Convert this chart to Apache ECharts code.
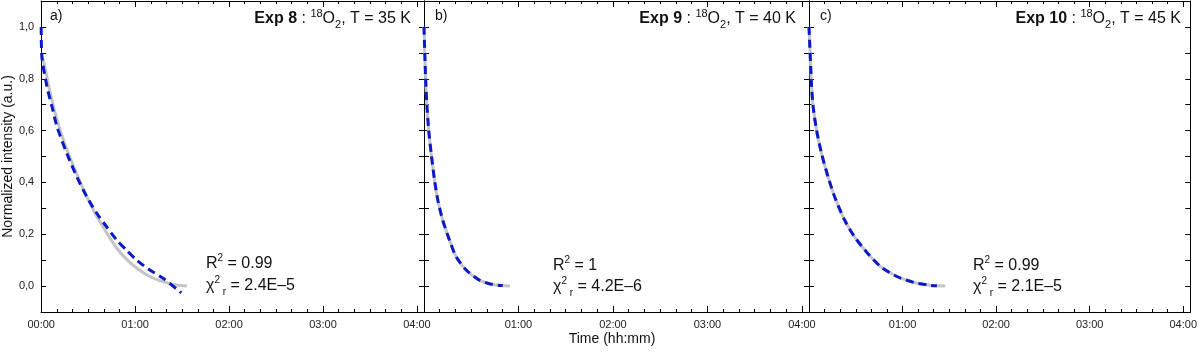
<!DOCTYPE html>
<html>
<head>
<meta charset="utf-8">
<script src="https://cdn.jsdelivr.net/npm/echarts@6/dist/echarts.min.js"></script>
<style>html,body{margin:0;padding:0;background:#fff}#chart{width:1200px;height:352px}</style>
</head>
<body>
<div id="chart"></div>
<script>
// time in minutes, intensity normalized
var exp8Time = [0, 1.7, 5.9, 10.2, 14.4, 18.6, 22.9, 29.2, 35.6, 41.9, 48.3, 54.6, 61, 69.4, 77.9, 86.4, 93];
var exp8Data = [0.9, 0.862, 0.742, 0.64, 0.56, 0.493, 0.43, 0.344, 0.268, 0.205, 0.146, 0.103, 0.07, 0.037, 0.017, 0.004, 0.0];
var exp8FitTime = [0, 0.5, 3.8, 7, 10.2, 16.5, 22.9, 29.2, 35.6, 41.9, 48.3, 54.6, 61, 69.4, 77.9, 89.5];
var exp8Fit = [1.0, 0.88, 0.767, 0.69, 0.613, 0.51, 0.42, 0.344, 0.28, 0.228, 0.177, 0.138, 0.1, 0.062, 0.03, -0.026];

var exp9Time = [0, 1, 1.8, 3, 4.6, 6.7, 8.8, 11.9, 16.2, 20.4, 26.8, 35.2, 43.7, 54.6];
var exp9Data = [1.0, 0.805, 0.703, 0.6, 0.51, 0.408, 0.331, 0.254, 0.177, 0.113, 0.062, 0.023, 0.006, 0.0];
var exp9FitTime = [0, 1, 1.8, 3, 4.6, 6.7, 8.8, 11.9, 16.2, 20.4, 26.8, 35.2, 43.7, 50];
var exp9Fit = [1.0, 0.805, 0.703, 0.6, 0.51, 0.408, 0.331, 0.254, 0.177, 0.113, 0.062, 0.023, 0.006, 0.002];

var exp10Time = [0, 1.7, 2.7, 4.9, 8.1, 12.3, 16.5, 22.9, 29.2, 37.7, 46.2, 56.7, 67.3, 77.9, 87.4];
var exp10Data = [1.0, 0.767, 0.69, 0.6, 0.51, 0.42, 0.344, 0.254, 0.19, 0.126, 0.074, 0.036, 0.014, 0.003, 0.0];
var exp10FitTime = [0, 1.7, 2.7, 4.9, 8.1, 12.3, 16.5, 22.9, 29.2, 37.7, 46.2, 56.7, 67.3, 77.9, 82];
var exp10Fit = [1.0, 0.767, 0.69, 0.6, 0.51, 0.42, 0.344, 0.254, 0.19, 0.126, 0.074, 0.036, 0.014, 0.003, 0.001];

var panelLabels = ['a)', 'b)', 'c)'];
var expNames = ['Exp 8', 'Exp 9', 'Exp 10'];
var temps = ['35 K', '40 K', '45 K'];
var r2Values = ['0.99', '1', '0.99'];
var chiValues = ['2.4E\u20135', '4.2E\u20136', '2.1E\u20135'];

var panels = [
    {t: exp8Time, v: exp8Data, ft: exp8FitTime, fv: exp8Fit},
    {t: exp9Time, v: exp9Data, ft: exp9FitTime, fv: exp9Fit},
    {t: exp10Time, v: exp10Data, ft: exp10FitTime, fv: exp10Fit}
];

var FONT = "'Liberation Sans', Arial, sans-serif";
var xMax = 244.5;
var annX = [206, 553, 973];

function pairs(t, v) {
    return t.map(function (x, i) { return [x, v[i]]; });
}
function hhmm(m) {
    var h = Math.floor(m / 60), mm = Math.round(m % 60);
    return (h < 10 ? '0' : '') + h + ':' + (mm < 10 ? '0' : '') + mm;
}

var myChart = echarts.init(document.getElementById('chart'));
var grids = [], xAxes = [], yAxes = [], series = [], graphics = [];

panels.forEach(function (p, i) {
    var left = 39 + i * 385;
    grids.push({left: left, top: 1, width: 385, height: 311, containLabel: false});
    var base = {
        type: 'value', gridIndex: i, min: 0, max: xMax,
        splitLine: {show: false},
        axisLine: {show: true, onZero: false, lineStyle: {color: '#000', width: 1}}
    };
    // bottom main axis
    xAxes.push(Object.assign({}, base, {
        position: 'bottom', interval: 60,
        axisTick: {inside: true, length: 6, lineStyle: {color: '#000'}},
        axisLabel: {
            margin: 7, color: '#222', fontSize: 11, fontFamily: FONT,
            showMaxLabel: false,
            formatter: function (v) {
                if (v % 60 !== 0) return '';
                if (i > 0 && v === 0) return '';
                return hhmm(v);
            }
        }
    }));
    // bottom minor ticks
    xAxes.push(Object.assign({}, base, {
        position: 'bottom', interval: 10,
        axisTick: {inside: true, length: 3, lineStyle: {color: '#000'}},
        axisLabel: {show: false}
    }));
    // top frame
    xAxes.push(Object.assign({}, base, {
        position: 'top', interval: 60,
        axisTick: {inside: true, length: 6, lineStyle: {color: '#000'}},
        axisLabel: {show: false}
    }));
    xAxes.push(Object.assign({}, base, {
        position: 'top', interval: 10,
        axisTick: {inside: true, length: 3, lineStyle: {color: '#000'}},
        axisLabel: {show: false}
    }));

    var ybase = {
        type: 'value', gridIndex: i, min: -0.1, max: 1.1, interval: 0.1,
        splitLine: {show: false},
        axisLine: {show: true, onZero: false, lineStyle: {color: '#000', width: 1}},
        axisTick: {inside: true, length: 5, lineStyle: {color: '#000'}}
    };
    yAxes.push(Object.assign({}, ybase, {
        position: 'left',
        name: i === 0 ? 'Normalized intensity (a.u.)' : '',
        nameLocation: 'middle', nameGap: 26,
        nameTextStyle: {color: '#111', fontSize: 14, fontFamily: FONT},
        axisLabel: {
            show: i === 0, margin: 7, color: '#222', fontSize: 11, fontFamily: FONT,
            formatter: function (v) {
                var r = Math.round(v * 10);
                if (r % 2 !== 0 || r < 0 || r > 10) return '';
                return (r / 10).toFixed(1).replace('.', ',');
            }
        }
    }));
    yAxes.push(Object.assign({}, ybase, {
        position: 'right',
        axisLabel: {show: false}
    }));

    series.push({
        type: 'line', xAxisIndex: i * 4, yAxisIndex: i * 2,
        data: pairs(p.t, p.v), showSymbol: false, symbol: 'none',
        smooth: 0.25,
        lineStyle: {color: '#c4c4c4', width: 3}, silent: true, z: 2
    });
    series.push({
        type: 'line', xAxisIndex: i * 4, yAxisIndex: i * 2,
        data: pairs(p.ft, p.fv), showSymbol: false, symbol: 'none',
        smooth: 0.25,
        lineStyle: {color: '#0b1ac8', width: 3, type: [8, 5]}, silent: true, z: 3
    });

    graphics.push({
        type: 'text', left: left + 11, top: 9,
        style: {text: panelLabels[i], font: '14px ' + FONT, fill: '#111'}
    });
    graphics.push({
        type: 'text', x: left + 372, y: 19,
        style: {
            text: '{b|' + expNames[i] + '}{n| : }{s|18}{n|O}{d|2}{n|, T = ' + temps[i] + '}',
            align: 'right', verticalAlign: 'middle', fill: '#111',
            rich: {
                b: {fontSize: 16, fontWeight: 'bold', fontFamily: FONT, lineHeight: 22},
                n: {fontSize: 16, fontFamily: FONT, lineHeight: 22},
                s: {fontSize: 11, fontFamily: FONT, lineHeight: 11, verticalAlign: 'top'},
                d: {fontSize: 11, fontFamily: FONT, lineHeight: 11, verticalAlign: 'bottom'}
            }
        }
    });
    var annRich = {
        n: {fontSize: 16, fontFamily: FONT, lineHeight: 22},
        s: {fontSize: 10, fontFamily: FONT, lineHeight: 10, verticalAlign: 'top'},
        d: {fontSize: 10, fontFamily: FONT, lineHeight: 10, verticalAlign: 'bottom'}
    };
    graphics.push({
        type: 'text', x: annX[i], y: i === 0 ? 264 : 266,
        style: {
            text: '{n|R}{s|2}{n| = ' + r2Values[i] + '}',
            align: 'left', verticalAlign: 'middle', fill: '#111', rich: annRich
        }
    });
    graphics.push({
        type: 'text', x: annX[i], y: i === 0 ? 286 : 287,
        style: {
            text: '{n|\u03c7}{s|2}{d| r}{n| = ' + chiValues[i] + '}',
            align: 'left', verticalAlign: 'middle', fill: '#111', rich: annRich
        }
    });
});

graphics.push({
    type: 'text', x: 612, y: 339,
    style: {text: 'Time (hh:mm)', font: '14px ' + FONT, fill: '#111', align: 'center', verticalAlign: 'middle'}
});

var option = {
    backgroundColor: '#fff',
    animation: false,
    grid: grids,
    xAxis: xAxes,
    yAxis: yAxes,
    series: series,
    graphic: graphics
};
myChart.setOption(option);
</script>
</body>
</html>
